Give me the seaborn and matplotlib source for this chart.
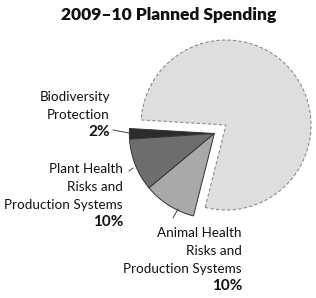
import matplotlib
matplotlib.use("Agg")
import matplotlib.pyplot as plt
import seaborn as sns
import numpy as np

sns.set_style("white")
plt.rcParams['font.family'] = ['Lato', 'DejaVu Sans']

# Data
categories = ["Biodiversity Protection", "Plant Health Risks and Production Systems",
              "Animal Health Risks and Production Systems", "Other"]
values = [2, 10, 10, 78]
label_lines = [["Biodiversity", "Protection"],
               ["Plant Health", "Risks and", "Production Systems"],
               ["Animal Health", "Risks and", "Production Systems"]]
pct_labels = ["2%", "10%", "10%"]
colors = ["#2c2c2c", "#6d6d6d", "#a9a9a9", "#dedede"]
title = "2009\u201310 Planned Spending"

W, H = 316, 298
fig = plt.figure(figsize=(W / 100, H / 100), dpi=100)
ax = fig.add_axes([0, 0, 1, 1])

# pixel geometry: big pie centre and radius
cx, cy, R = 226, 125, 85
def px(x, y):
    return ((x - cx) / R, (cy - y) / R)

wedges, _ = ax.pie(values, colors=colors, startangle=176.6, counterclock=True,
                   radius=1.0, center=(0, 0),
                   wedgeprops=dict(edgecolor="#333333", linewidth=0.7))
ax.set_xlim(-cx / R, (W - cx) / R)
ax.set_ylim(-(H - cy) / R, cy / R)
ax.set_aspect("equal")
ax.axis("off")

# explode the small-slice group together along its mid angle
small_total = sum(values[:3]) / sum(values) * 360
mid = np.deg2rad(176.6 + small_total / 2)
d = 0.17
for w in wedges[:3]:
    w.set_center((d * np.cos(mid), d * np.sin(mid)))
big = wedges[3]
big.set_edgecolor("#8a8a8a")
big.set_linestyle((0, (3, 2)))
big.set_linewidth(0.8)

fs = 9.7
lh = 18
# label blocks: right edge px, first line y px
blocks = [(110, 97), (123, 169), (242, 233)]
for (xr, y0), lines, pct in zip(blocks, label_lines, pct_labels):
    for i, ln in enumerate(lines):
        ax.text(*px(xr, y0 + i * lh), ln, ha="right", va="center",
                fontsize=fs, color="#111111")
    ax.text(*px(xr, y0 + len(lines) * lh - 1), pct, ha="right", va="center",
            fontsize=11, fontweight="bold", color="#111111")

# leader lines
leaders = [((113, 130), (129, 133)), ((129, 171), (133, 168)), ((173, 218), (178, 209))]
for a, b in leaders:
    p, q = px(*a), px(*b)
    ax.plot([p[0], q[0]], [p[1], q[1]], color="#444444", linewidth=0.7)

ax.text(*px(169, 15), title, ha="center", va="center", fontsize=12.5,
        fontweight="heavy", color="#111111")

fig.savefig("out.png", dpi=100)
